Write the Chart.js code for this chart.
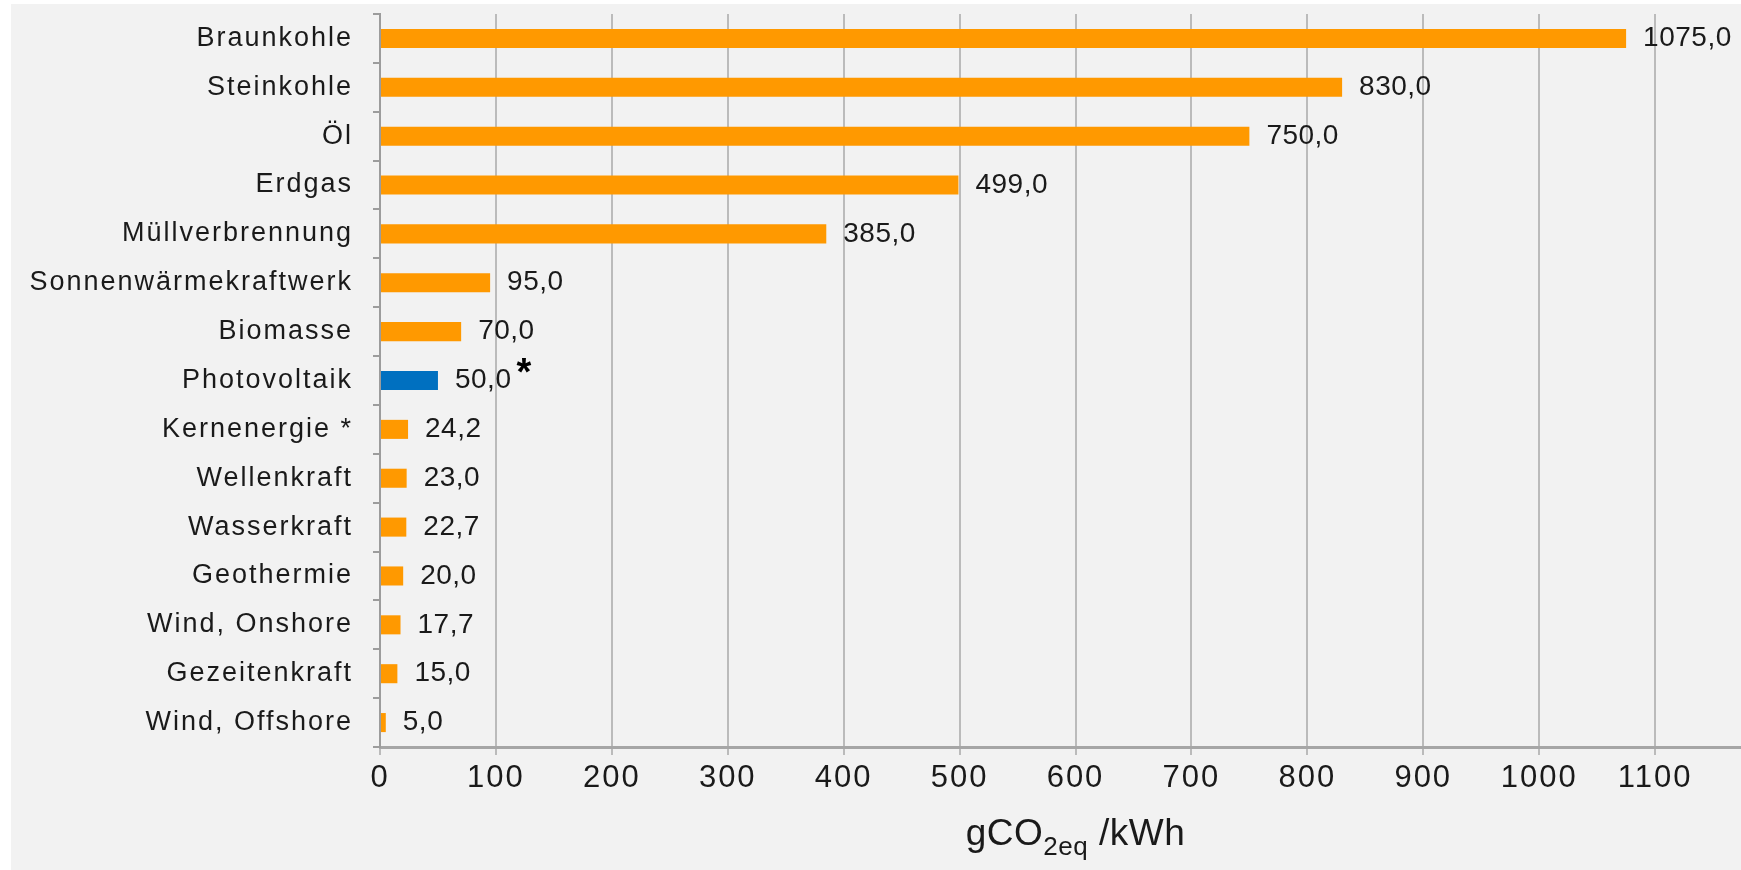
<!DOCTYPE html>
<html lang="de">
<head>
<meta charset="utf-8">
<title>Treibhausgasemissionen nach Energieträger</title>
<script src="https://cdn.jsdelivr.net/npm/chart.js@4.4.1/dist/chart.umd.min.js"></script>
<style>
  html, body { margin: 0; padding: 0; background: #ffffff; overflow: hidden; }
  #wrap { width: 1741px; height: 870px; overflow: hidden; }
  canvas { display: block; }
</style>
</head>
<body>
<div id="wrap"><canvas id="chart" width="1771" height="870"></canvas></div>
<script>
// Lebenszyklus-Emissionen je Energieträger in gCO2eq/kWh
const categories = [
  'Braunkohle', 'Steinkohle', 'Öl', 'Erdgas', 'Müllverbrennung',
  'Sonnenwärmekraftwerk', 'Biomasse', 'Photovoltaik', 'Kernenergie *',
  'Wellenkraft', 'Wasserkraft', 'Geothermie', 'Wind, Onshore',
  'Gezeitenkraft', 'Wind, Offshore'
];
const emissions = [1075.0, 830.0, 750.0, 499.0, 385.0, 95.0, 70.0, 50.0, 24.2, 23.0, 22.7, 20.0, 17.7, 15.0, 5.0];
const footnoteMarks = ['', '', '', '', '', '', '', '*', '', '', '', '', '', '', ''];
const highlighted = 'Photovoltaik';
const xTickLabels = [0, 100, 200, 300, 400, 500, 600, 700, 800, 900, 1000, 1100];
const xTickStep = 100;
const xRange = [0, 1200];
const axisTitleParts = ['gCO', '2eq', ' /kWh'];

const ORANGE = '#ff9900';
const BLUE = '#0070c0';
const TEXT = '#1a1a1a';
const FONT = "'Liberation Sans', Arial, sans-serif";

const fmt = v => v.toFixed(1).replace('.', ',');

// page background with the thin white margin at top and left
const backdrop = {
  id: 'backdrop',
  beforeDraw(chart) {
    const ctx = chart.ctx;
    ctx.save();
    ctx.fillStyle = '#ffffff';
    ctx.fillRect(0, 0, chart.width, chart.height);
    ctx.fillStyle = '#f2f2f2';
    ctx.fillRect(11, 4, chart.width - 11, chart.height - 4);
    ctx.restore();
    ctx.letterSpacing = '2px';
  }
};

// value labels next to each bar, plus footnote marks
const valueLabels = {
  id: 'valueLabels',
  afterDatasetsDraw(chart) {
    const ctx = chart.ctx;
    const meta = chart.getDatasetMeta(0);
    ctx.save();
    meta.data.forEach((bar, i) => {
      const text = fmt(emissions[i]);
      ctx.font = `28px ${FONT}`;
      ctx.letterSpacing = '0.5px';
      ctx.fillStyle = TEXT;
      ctx.textAlign = 'left';
      ctx.textBaseline = 'middle';
      const x = bar.x + 17;
      ctx.fillText(text, x, bar.y);
      if (footnoteMarks[i]) {
        const w = ctx.measureText(text).width;
        ctx.font = `bold 38px ${FONT}`;
        ctx.letterSpacing = '0px';
        ctx.fillStyle = '#000000';
        ctx.textBaseline = 'alphabetic';
        ctx.fillText(footnoteMarks[i], x + w + 5, bar.y + 4);
      }
    });
    ctx.restore();
  }
};

// x-axis title with subscript
const axisTitle = {
  id: 'axisTitle',
  afterDraw(chart) {
    const ctx = chart.ctx;
    const area = chart.chartArea;
    const big = `37px ${FONT}`;
    const small = `26px ${FONT}`;
    ctx.save();
    ctx.letterSpacing = '0.5px';
    ctx.fillStyle = TEXT;
    ctx.textAlign = 'left';
    ctx.textBaseline = 'alphabetic';
    const fonts = [big, small, big];
    const widths = axisTitleParts.map((t, i) => { ctx.font = fonts[i]; return ctx.measureText(t).width; });
    const total = widths.reduce((a, b) => a + b, 0);
    let x = (area.left + area.right) / 2 - total / 2;
    const base = area.bottom + 98;
    axisTitleParts.forEach((t, i) => {
      ctx.font = fonts[i];
      ctx.fillText(t, x, i === 1 ? base + 10 : base);
      x += widths[i];
    });
    ctx.restore();
  }
};

new Chart(document.getElementById('chart'), {
  type: 'bar',
  data: {
    labels: categories,
    datasets: [{
      data: emissions,
      backgroundColor: categories.map(c => c === highlighted ? BLUE : ORANGE),
      borderWidth: 0,
      categoryPercentage: 1.0,
      barPercentage: 0.39
    }]
  },
  options: {
    indexAxis: 'y',
    responsive: false,
    animation: false,
    layout: { padding: { top: 14, left: 0, right: 0, bottom: 0 } },
    plugins: {
      legend: { display: false },
      tooltip: { enabled: false },
      title: { display: false }
    },
    scales: {
      x: {
        type: 'linear',
        min: xRange[0],
        max: xRange[1],
        ticks: {
          stepSize: xTickStep,
          color: TEXT,
          font: { family: FONT, size: 31 },
          padding: 5,
          maxRotation: 0,
          callback: v => (xTickLabels.includes(v) ? String(v) : '')
        },
        grid: { color: '#bbbbbb', lineWidth: 2, tickLength: 8, drawTicks: true },
        border: { color: '#a6a6a6', width: 3 },
        afterFit(scale) {
          scale.height = 123;
          scale.paddingLeft = 0;
          scale.paddingRight = 0;
        }
      },
      y: {
        type: 'category',
        offset: true,
        ticks: {
          color: TEXT,
          font: { family: FONT, size: 27 },
          padding: 20,
          autoSkip: false
        },
        grid: {
          offset: true,
          drawOnChartArea: false,
          drawTicks: true,
          tickLength: 7,
          color: '#9c9c9c',
          lineWidth: 2
        },
        border: { color: '#9c9c9c', width: 2 },
        afterFit(scale) {
          scale.width = 380;
          scale.paddingTop = 0;
          scale.paddingBottom = 0;
        }
      }
    }
  },
  plugins: [backdrop, valueLabels, axisTitle]
});
</script>
</body>
</html>
